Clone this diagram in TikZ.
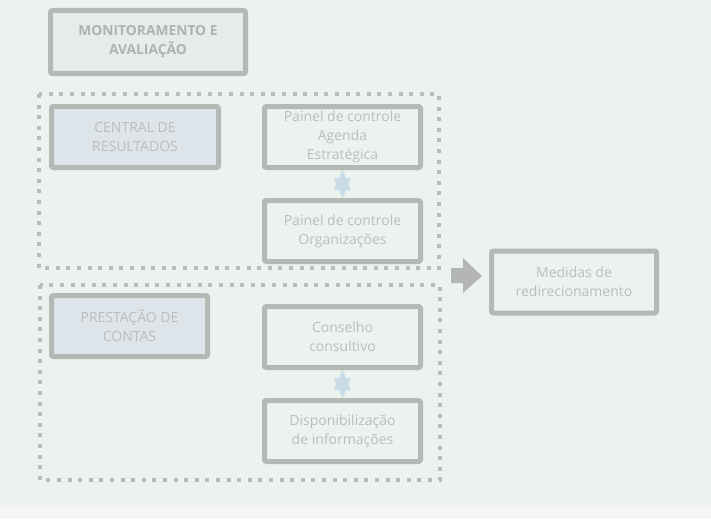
\documentclass[tikz,border=0pt]{standalone}
\usepackage{fontspec}
\setmainfont{Open Sans}
\usetikzlibrary{arrows.meta}
\definecolor{bgcol}{HTML}{EDF2EE}
\definecolor{stripcol}{HTML}{F6F6F6}
\definecolor{framecol}{HTML}{B5B9B5}
\definecolor{dotcol}{HTML}{B9BDB9}
\definecolor{txtcol}{HTML}{BBBDBC}
\definecolor{headcol}{HTML}{AEB2B0}
\definecolor{monfill}{HTML}{E7ECEA}
\definecolor{secfill}{HTML}{DEE5EA}
\definecolor{boxfill}{HTML}{EDF2EF}
\definecolor{linkcol}{HTML}{C9DCE6}
\definecolor{arrowcol}{HTML}{B4B6B4}
\tikzset{
  box/.style={draw=framecol, line width=5pt, rounded corners=2pt,
    inner sep=0pt, outer sep=0pt, align=center, text=txtcol,
    font=\fontsize{14}{19}\selectfont, fill=boxfill},
  headbox/.style={box, fill=monfill, text=headcol,
    font=\fontsize{13.8}{19}\selectfont\bfseries},
  secbox/.style={box, fill=secfill},
  group/.style={draw=dotcol, line width=4.5pt, dash pattern=on 4pt off 6.6pt},
  link/.style={line width=0.1pt, linkcol,
    {Triangle[width=17pt,length=20pt]}-{Triangle[width=17pt,length=20pt]}},
}
\begin{document}
\begin{tikzpicture}[x=1pt, y=-1pt]
  % page background and bottom strip
  \fill[stripcol] (0,0) rectangle (711,519);
  \fill[bgcol] (0,0) rectangle (711,507);
  \useasboundingbox (0,0) rectangle (711,519);

  % dotted groups
  \draw[group] (39,94) rectangle (439,268);
  \draw[group] (40,285) rectangle (440,480);

  % title box
  \node[headbox, minimum width=195pt, minimum height=63pt] (mon) at (148,42)
    {MONITORAMENTO E\\AVALIAÇÃO};

  % first group
  \node[secbox, minimum width=167pt, minimum height=61pt] (central) at (135,137)
    {CENTRAL DE\\RESULTADOS};
  \node[box, minimum width=156pt, minimum height=61pt] (pa) at (342.5,137)
    {Painel de controle\\Agenda\\Estratégica};
  \node[box, minimum width=156pt, minimum height=61pt] (po) at (342.5,231)
    {Painel de controle\\Organizações};

  % second group
  \node[secbox, minimum width=156pt, minimum height=61pt] (prest) at (129.5,326)
    {PRESTAÇÃO DE\\CONTAS};
  \node[box, minimum width=156pt, minimum height=61pt] (cons) at (342.5,337)
    {Conselho\\consultivo};
  \node[box, minimum width=156pt, minimum height=61pt] (disp) at (342.5,431)
    {Disponibilização\\de informações};

  % outcome box
  \node[box, minimum width=165pt, minimum height=62pt] (med) at (574,282)
    {Medidas de\\redirecionamento};

  % two-way links
  \draw[link] ([yshift=-2.5pt]pa.south) -- ([yshift=2.5pt]po.north);
  \draw[link] ([yshift=-2.5pt]cons.south) -- ([yshift=2.5pt]disp.north);

  % block arrow towards the outcome box
  \coordinate (tip) at (482,276);
  \fill[arrowcol] (tip) -- ++(-19,-18) -- ++(0,10) -- ++(-12,0) -- ++(0,15)
    -- ++(12,0) -- ++(0,10) -- cycle;
\end{tikzpicture}
\end{document}
